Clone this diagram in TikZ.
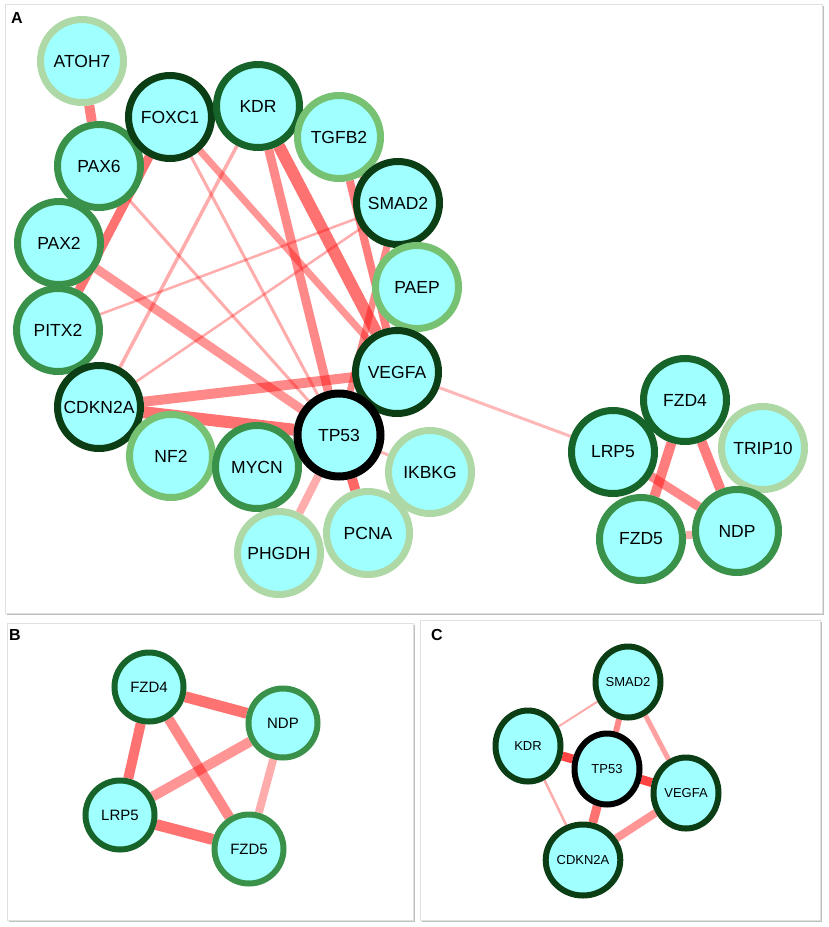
\documentclass[tikz,border=0pt]{standalone}
\usepackage{fontspec}
\setmainfont{Liberation Sans}
\usetikzlibrary{shapes.geometric}
\pgfdeclarelayer{frames}
\pgfdeclarelayer{links}
\pgfsetlayers{frames,links,main}
\definecolor{nodefill}{RGB}{160,255,255}
\definecolor{gdarkest}{RGB}{12,62,22}
\definecolor{gdark}{RGB}{22,100,42}
\definecolor{gmed}{RGB}{58,146,74}
\definecolor{glight}{RGB}{118,194,114}
\definecolor{gpale}{RGB}{174,217,166}
\definecolor{linkred}{RGB}{255,20,20}
\definecolor{framegray}{RGB}{224,224,224}
\definecolor{shadowgray}{RGB}{190,190,190}
\begin{document}
\begin{tikzpicture}[x=1pt,y=-1pt,
  geneA/.style={circle, fill=nodefill, draw=#1, line width=7pt, minimum size=83pt, inner sep=0pt, font=\fontsize{17.5}{18}\selectfont},
  geneB/.style={circle, fill=nodefill, draw=#1, line width=6pt, minimum size=69pt, inner sep=0pt, font=\fontsize{15}{15}\selectfont},
  geneC/.style={ellipse, fill=nodefill, draw=#1, line width=6pt, minimum width=65pt, minimum height=71pt, inner sep=0pt, font=\fontsize{13}{13}\selectfont},
  lnk/.style 2 args={draw=linkred, line width=#1pt, draw opacity=#2},
  panellabel/.style={font=\bfseries\fontsize{16}{16}\selectfont, inner sep=0pt},
  panelframe/.style={draw=framegray, line width=1pt, fill=white},
  panelshadow/.style={draw=shadowgray, line width=2pt}
]
\useasboundingbox (0,0) rectangle (829,927);

% ---------- frames ----------
\begin{pgfonlayer}{frames}
  \fill[white] (0,0) rectangle (829,927);
  \draw[panelshadow] (7,614) -- (823,614) -- (823,6);
  \draw[panelframe] (5,4) rectangle (822,613);
  \draw[panelshadow] (9,921) -- (414,921) -- (414,625);
  \draw[panelframe] (7,623) rectangle (413,920);
  \draw[panelshadow] (422,921) -- (821,921) -- (821,622);
  \draw[panelframe] (420,620) rectangle (820,920);
\end{pgfonlayer}

\node[panellabel] (labA) at (17,18) {A};
\node[panellabel] (labB) at (15,635) {B};
\node[panellabel] (labC) at (437,635) {C};

% ---------- panel A nodes ----------
\node[geneA=gpale]    (aATOH7)  at (82,61)   {ATOH7};
\node[geneA=gmed]     (aPAX6)   at (99,166)  {PAX6};
\node[geneA=gdarkest] (aFOXC1)  at (170,117) {FOXC1};
\node[geneA=gdark]    (aKDR)    at (258,106) {KDR};
\node[geneA=glight]   (aTGFB2)  at (339,137) {TGFB2};
\node[geneA=gdarkest] (aSMAD2)  at (398,203) {SMAD2};
\node[geneA=glight]   (aPAEP)   at (417,287) {PAEP};
\node[geneA=gdarkest] (aVEGFA)  at (397,372) {VEGFA};
\node[geneA=gmed]     (aPAX2)   at (59,243)  {PAX2};
\node[geneA=gmed]     (aPITX2)  at (58,330)  {PITX2};
\node[geneA=gdarkest] (aCDKN2A) at (99,407)  {CDKN2A};
\node[geneA=glight]   (aNF2)    at (171,456) {NF2};
\node[geneA=gmed]     (aMYCN)   at (257,467) {MYCN};
\node[geneA=gpale]    (aPHGDH)  at (279,553) {PHGDH};
\node[geneA=gpale]    (aIKBKG)  at (430,472) {IKBKG};
\node[geneA=gpale]    (aPCNA)   at (368,533) {PCNA};
\node[geneA=black, line width=8pt] (aTP53) at (339,435) {TP53};
\node[geneA=gpale]    (aTRIP10) at (763,448) {TRIP10};
\node[geneA=gdark]    (aLRP5)   at (613,452) {LRP5};
\node[geneA=gdark]    (aFZD4)   at (685,400) {FZD4};
\node[geneA=gmed]     (aFZD5)   at (641,539) {FZD5};
\node[geneA=gmed]     (aNDP)    at (737,531) {NDP};

% ---------- panel B nodes ----------
\node[geneB=gdark] (bFZD4) at (149,687) {FZD4};
\node[geneB=gmed]  (bNDP)  at (283,723) {NDP};
\node[geneB=gdark] (bLRP5) at (120,815) {LRP5};
\node[geneB=gmed]  (bFZD5) at (249,849) {FZD5};

% ---------- panel C nodes ----------
\node[geneC=gdarkest] (cSMAD2)  at (628,682) {SMAD2};
\node[geneC=gdarkest] (cKDR)    at (528,746) {KDR};
\node[geneC=black]    (cTP53)   at (607,769) {TP53};
\node[geneC=gdarkest] (cVEGFA)  at (686,793) {VEGFA};
\node[geneC=gdarkest] (cCDKN2A) at (583,860) {CDKN2A};

% ---------- links ----------
\begin{pgfonlayer}{links}
  % panel A
  \draw[lnk={10}{0.55}] (aATOH7) -- (aPAX6);
  \draw[lnk={9}{0.6}]   (aFOXC1) -- (aPITX2);
  \draw[lnk={3}{0.35}]  (aPAX6) -- (aTP53);
  \draw[lnk={9}{0.45}]  (aPAX2) -- (aTP53);
  \draw[lnk={2.5}{0.35}] (aPITX2) -- (aSMAD2);
  \draw[lnk={3.5}{0.35}] (aCDKN2A) -- (aKDR);
  \draw[lnk={2.5}{0.35}] (aCDKN2A) -- (aSMAD2);
  \draw[lnk={3}{0.35}]  (aFOXC1) -- (aTP53);
  \draw[lnk={7}{0.45}]  (aFOXC1) -- (aVEGFA);
  \draw[lnk={9}{0.5}]   (aKDR) -- (aTP53);
  \draw[lnk={12}{0.6}]  (aKDR) -- (aVEGFA);
  \draw[lnk={3}{0.35}]  (aKDR) -- (aSMAD2);
  \draw[lnk={8}{0.55}]  (aTGFB2) -- (aVEGFA);
  \draw[lnk={7}{0.5}]   (aSMAD2) -- (aTP53);
  \draw[lnk={4}{0.4}]   (aSMAD2) -- (aVEGFA);
  \draw[lnk={8}{0.5}]   (aPAEP) -- (aVEGFA);
  \draw[lnk={12}{0.6}]  (aCDKN2A) -- (aTP53);
  \draw[lnk={10}{0.5}]  (aCDKN2A) -- (aVEGFA);
  \draw[lnk={10}{0.6}]  (aTP53) -- (aVEGFA);
  \draw[lnk={8}{0.35}]  (aTP53) -- (aPHGDH);
  \draw[lnk={10}{0.65}] (aTP53) -- (aPCNA);
  \draw[lnk={3}{0.3}]   (aTP53) -- (aIKBKG);
  \draw[lnk={3}{0.3}]   (aVEGFA) -- (aLRP5);
  \draw[lnk={10}{0.55}] (aFZD4) -- (aFZD5);
  \draw[lnk={10}{0.55}] (aFZD4) -- (aNDP);
  \draw[lnk={9}{0.5}]   (aLRP5) -- (aNDP);
  \draw[lnk={8}{0.35}]  (aFZD5) -- (aNDP);
  % panel B
  \draw[lnk={11}{0.6}]  (bFZD4) -- (bNDP);
  \draw[lnk={10}{0.6}]  (bFZD4) -- (bLRP5);
  \draw[lnk={10}{0.5}]  (bFZD4) -- (bFZD5);
  \draw[lnk={10}{0.45}] (bNDP) -- (bLRP5);
  \draw[lnk={8}{0.35}]  (bNDP) -- (bFZD5);
  \draw[lnk={11}{0.6}]  (bLRP5) -- (bFZD5);
  % panel C
  \draw[lnk={2}{0.35}]  (cKDR) -- (cSMAD2);
  \draw[lnk={2.5}{0.35}] (cKDR) -- (cCDKN2A);
  \draw[lnk={6}{0.5}]   (cSMAD2) -- (cTP53);
  \draw[lnk={5}{0.4}]   (cSMAD2) -- (cVEGFA);
  \draw[lnk={9}{0.8}]   (cKDR) -- (cTP53);
  \draw[lnk={9}{0.8}]   (cTP53) -- (cVEGFA);
  \draw[lnk={9}{0.6}]   (cTP53) -- (cCDKN2A);
  \draw[lnk={8}{0.45}]  (cVEGFA) -- (cCDKN2A);
\end{pgfonlayer}
\end{tikzpicture}
\end{document}
